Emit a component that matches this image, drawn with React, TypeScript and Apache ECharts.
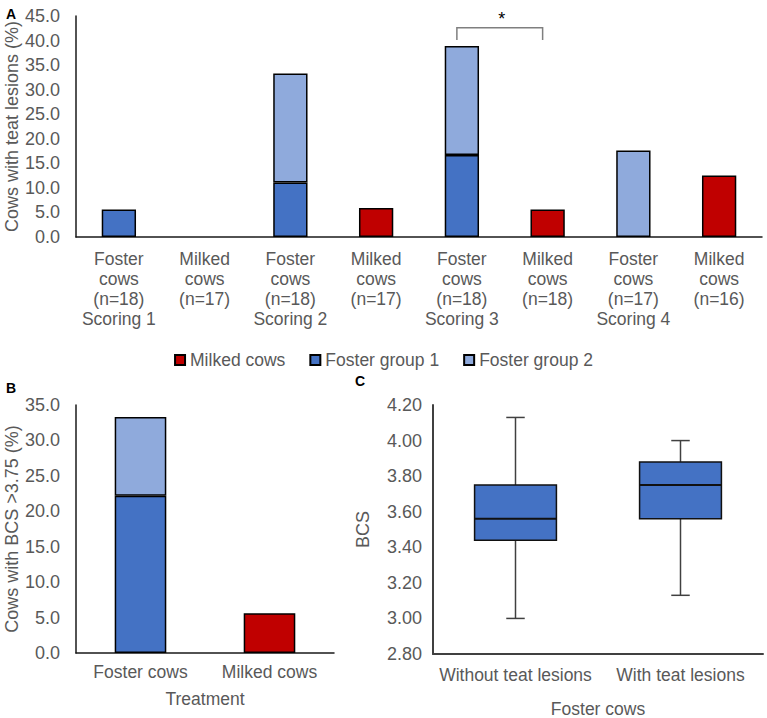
import React, { useEffect, useRef } from "react";
import * as echarts from "echarts";

// ---------- Panel A data ----------
const categoriesA = [
  "Foster\ncows\n(n=18)\nScoring 1",
  "Milked\ncows\n(n=17)",
  "Foster\ncows\n(n=18)\nScoring 2",
  "Milked\ncows\n(n=17)",
  "Foster\ncows\n(n=18)\nScoring 3",
  "Milked\ncows\n(n=18)",
  "Foster\ncows\n(n=17)\nScoring 4",
  "Milked\ncows\n(n=16)",
];
const milkedA: (number | string)[] = ["-", 0, "-", 5.9, "-", 5.6, "-", 12.5];
const fosterGroup1A: (number | string)[] = [5.6, "-", 11.1, "-", 16.7, "-", "-", "-"];
const fosterGroup2A: (number | string)[] = ["-", "-", 22.2, "-", 22.2, "-", 17.6, "-"];
// significance bracket: [from category, to category, bracket top value, leg end value]
const significanceA = [[4, 5, 42.6, 40.1]];
const significanceMark = "*";

// ---------- Panel B data ----------
const categoriesB = ["Foster cows", "Milked cows"];
const milkedB: (number | string)[] = ["-", 5.6];
const fosterGroup1B: (number | string)[] = [22.2, "-"];
const fosterGroup2B: (number | string)[] = [11.1, "-"];

// ---------- Panel C data ----------
const categoriesC = ["Without teat lesions", "With teat lesions"];
const bcsMin = [3.0, 3.13];
const bcsQ1 = [3.44, 3.56];
const bcsMedian = [3.56, 3.75];
const bcsQ3 = [3.75, 3.88];
const bcsMax = [4.13, 4.0];

const RED = "#C00000";
const BLUE1 = "#4472C4";
const BLUE2 = "#8FAADC";
const GRAY_TEXT = "#595959";
const FONT = "'Liberation Sans', Arial, sans-serif";

// a zero-height bar is not drawn in the reference
const hideZero = (arr: (number | string)[]) => arr.map((v) => (v === 0 ? "-" : v));

export default function App() {
  const ref = useRef<HTMLDivElement>(null);

  useEffect(() => {
    if (!ref.current) return;
    const chart = echarts.init(ref.current, undefined, { renderer: "svg" });

    const barItem = (color: string) => ({
      color,
      borderColor: "#000",
      borderWidth: 1.5,
    });

    const yAxisCommon = {
      type: "value" as const,
      splitLine: { show: false },
      axisTick: { show: false },
      nameLocation: "middle" as const,
      nameMoveOverlap: false,
      nameTextStyle: { color: GRAY_TEXT, fontSize: 18, fontFamily: FONT },
      axisLabel: { color: GRAY_TEXT, fontSize: 18, fontFamily: FONT, margin: 16 },
      axisLine: { show: true, lineStyle: { color: "#1a1a1a", width: 1.5 } },
    };

    const boxData = categoriesC.map((_, i) => [
      i,
      bcsMin[i],
      bcsQ1[i],
      bcsMedian[i],
      bcsQ3[i],
      bcsMax[i],
    ]);

    const option: any = {
      animation: false,
      textStyle: { fontFamily: FONT },
      legend: {
        data: ["Milked cows", "Foster group 1", "Foster group 2"],
        left: "center",
        top: 346,
        itemWidth: 10,
        itemHeight: 10,
        itemGap: 24,
        icon: "rect",
        textStyle: { color: GRAY_TEXT, fontSize: 17.5, fontFamily: FONT },
      },
      grid: [
        { left: 76, top: 16, width: 686, height: 221, outerBoundsMode: "none", containLabel: false },
        { left: 76, top: 405, width: 258, height: 248, outerBoundsMode: "none", containLabel: false },
        { left: 433, top: 405, width: 330, height: 249, outerBoundsMode: "none", containLabel: false },
      ],
      xAxis: [
        {
          type: "category",
          gridIndex: 0,
          data: categoriesA,
          axisTick: { show: false },
          axisLine: { lineStyle: { color: "#1a1a1a", width: 1.5 } },
          axisLabel: {
            interval: 0,
            color: GRAY_TEXT,
            fontSize: 17.5,
            lineHeight: 20,
            margin: 12,
            fontFamily: FONT,
          },
        },
        {
          type: "category",
          gridIndex: 1,
          data: categoriesB,
          name: "Treatment",
          nameLocation: "middle",
          nameMoveOverlap: false,
          nameGap: 37,
          nameTextStyle: { color: GRAY_TEXT, fontSize: 17.5, fontFamily: FONT },
          axisTick: { show: false },
          axisLine: { lineStyle: { color: "#1a1a1a", width: 1.5 } },
          axisLabel: { interval: 0, color: GRAY_TEXT, fontSize: 17.5, margin: 10, fontFamily: FONT },
        },
        {
          type: "category",
          gridIndex: 2,
          data: categoriesC,
          name: "Foster cows",
          nameLocation: "middle",
          nameMoveOverlap: false,
          nameGap: 46,
          nameTextStyle: { color: GRAY_TEXT, fontSize: 17.5, fontFamily: FONT },
          axisTick: { show: false },
          axisLine: { lineStyle: { color: "#404040", width: 2 } },
          axisLabel: { interval: 0, color: GRAY_TEXT, fontSize: 17.5, margin: 12, fontFamily: FONT },
        },
      ],
      yAxis: [
        {
          ...yAxisCommon,
          gridIndex: 0,
          min: 0,
          max: 45,
          interval: 5,
          name: "Cows with teat lesions (%)",
          nameGap: 55,
          axisLabel: { ...yAxisCommon.axisLabel, formatter: (v: number) => v.toFixed(1) },
        },
        {
          ...yAxisCommon,
          gridIndex: 1,
          min: 0,
          max: 35,
          interval: 5,
          name: "Cows with BCS >3.75 (%)",
          nameGap: 55,
          axisLabel: { ...yAxisCommon.axisLabel, formatter: (v: number) => v.toFixed(1) },
        },
        {
          ...yAxisCommon,
          gridIndex: 2,
          min: 2.8,
          max: 4.2,
          interval: 0.2,
          name: "BCS",
          nameGap: 61,
          axisLine: { show: true, lineStyle: { color: "#404040", width: 2 } },
          axisLabel: { ...yAxisCommon.axisLabel, margin: 11, formatter: (v: number) => v.toFixed(2) },
        },
      ],
      series: [
        // Panel A
        {
          name: "Milked cows",
          type: "bar",
          xAxisIndex: 0,
          yAxisIndex: 0,
          stack: "A",
          barWidth: "40%",
          data: hideZero(milkedA),
          itemStyle: barItem(RED),
        },
        {
          name: "Foster group 1",
          type: "bar",
          xAxisIndex: 0,
          yAxisIndex: 0,
          stack: "A",
          barWidth: "40%",
          data: hideZero(fosterGroup1A),
          itemStyle: barItem(BLUE1),
        },
        {
          name: "Foster group 2",
          type: "bar",
          xAxisIndex: 0,
          yAxisIndex: 0,
          stack: "A",
          barWidth: "40%",
          data: hideZero(fosterGroup2A),
          itemStyle: barItem(BLUE2),
        },
        {
          type: "custom",
          xAxisIndex: 0,
          yAxisIndex: 0,
          silent: true,
          z: 5,
          data: significanceA,
          encode: { x: [0, 1], y: [2, 3] },
          renderItem: (_params: any, api: any) => {
            const a = api.coord([api.value(0), api.value(2)]);
            const b = api.coord([api.value(1), api.value(2)]);
            const leg = api.coord([api.value(0), api.value(3)]);
            const off = -5;
            return {
              type: "group",
              children: [
                {
                  type: "polyline",
                  shape: {
                    points: [
                      [a[0] + off, leg[1]],
                      [a[0] + off, a[1]],
                      [b[0] + off, b[1]],
                      [b[0] + off, leg[1]],
                    ],
                  },
                  style: { stroke: "#7f7f7f", lineWidth: 1.5, fill: null },
                },
                {
                  type: "text",
                  x: (a[0] + b[0]) / 2 + off + 2,
                  y: a[1] - 9,
                  style: {
                    text: significanceMark,
                    fontSize: 18,
                    fontFamily: FONT,
                    fill: "#000",
                    align: "center",
                    verticalAlign: "middle",
                  },
                },
              ],
            };
          },
        },
        // Panel B
        {
          name: "Milked cows",
          type: "bar",
          xAxisIndex: 1,
          yAxisIndex: 1,
          stack: "B",
          barWidth: "40%",
          data: milkedB,
          itemStyle: barItem(RED),
        },
        {
          name: "Foster group 1",
          type: "bar",
          xAxisIndex: 1,
          yAxisIndex: 1,
          stack: "B",
          barWidth: "40%",
          data: fosterGroup1B,
          itemStyle: barItem(BLUE1),
        },
        {
          name: "Foster group 2",
          type: "bar",
          xAxisIndex: 1,
          yAxisIndex: 1,
          stack: "B",
          barWidth: "40%",
          data: fosterGroup2B,
          itemStyle: barItem(BLUE2),
        },
        // Panel C box plot
        {
          type: "custom",
          xAxisIndex: 2,
          yAxisIndex: 2,
          silent: true,
          data: boxData,
          encode: { x: 0, y: [1, 2, 3, 4, 5] },
          renderItem: (_params: any, api: any) => {
            const i = api.value(0);
            const pMin = api.coord([i, api.value(1)]);
            const pQ1 = api.coord([i, api.value(2)]);
            const pMed = api.coord([i, api.value(3)]);
            const pQ3 = api.coord([i, api.value(4)]);
            const pMax = api.coord([i, api.value(5)]);
            const band = api.size([1, 0])[0];
            const hw = band * 0.248;
            const cw = band * 0.056;
            const cx = pMed[0];
            const whisker = { stroke: "#404040", lineWidth: 1.5 };
            return {
              type: "group",
              children: [
                { type: "line", shape: { x1: cx, y1: pMax[1], x2: cx, y2: pQ3[1] }, style: whisker },
                { type: "line", shape: { x1: cx, y1: pQ1[1], x2: cx, y2: pMin[1] }, style: whisker },
                { type: "line", shape: { x1: cx - cw, y1: pMax[1], x2: cx + cw, y2: pMax[1] }, style: whisker },
                { type: "line", shape: { x1: cx - cw, y1: pMin[1], x2: cx + cw, y2: pMin[1] }, style: whisker },
                {
                  type: "rect",
                  shape: { x: cx - hw, y: pQ3[1], width: hw * 2, height: pQ1[1] - pQ3[1] },
                  style: { fill: BLUE1, stroke: "#111", lineWidth: 1.5 },
                },
                {
                  type: "line",
                  shape: { x1: cx - hw, y1: pMed[1], x2: cx + hw, y2: pMed[1] },
                  style: { stroke: "#111", lineWidth: 2 },
                },
              ],
            };
          },
        },
      ],
      graphic: [
        { type: "text", x: 11, y: 14, style: { text: "A", fontSize: 14, fontWeight: "bold", fontFamily: FONT, fill: "#000", align: "center", verticalAlign: "middle" } },
        { type: "text", x: 11, y: 388, style: { text: "B", fontSize: 14, fontWeight: "bold", fontFamily: FONT, fill: "#000", align: "center", verticalAlign: "middle" } },
        { type: "text", x: 360, y: 381, style: { text: "C", fontSize: 14, fontWeight: "bold", fontFamily: FONT, fill: "#000", align: "center", verticalAlign: "middle" } },
      ],
    };

    chart.setOption(option);
    return () => chart.dispose();
  }, []);

  return (
    <div
      ref={ref}
      style={{ position: "fixed", left: 0, top: 0, width: 767, height: 718, background: "#fff" }}
    />
  );
}
